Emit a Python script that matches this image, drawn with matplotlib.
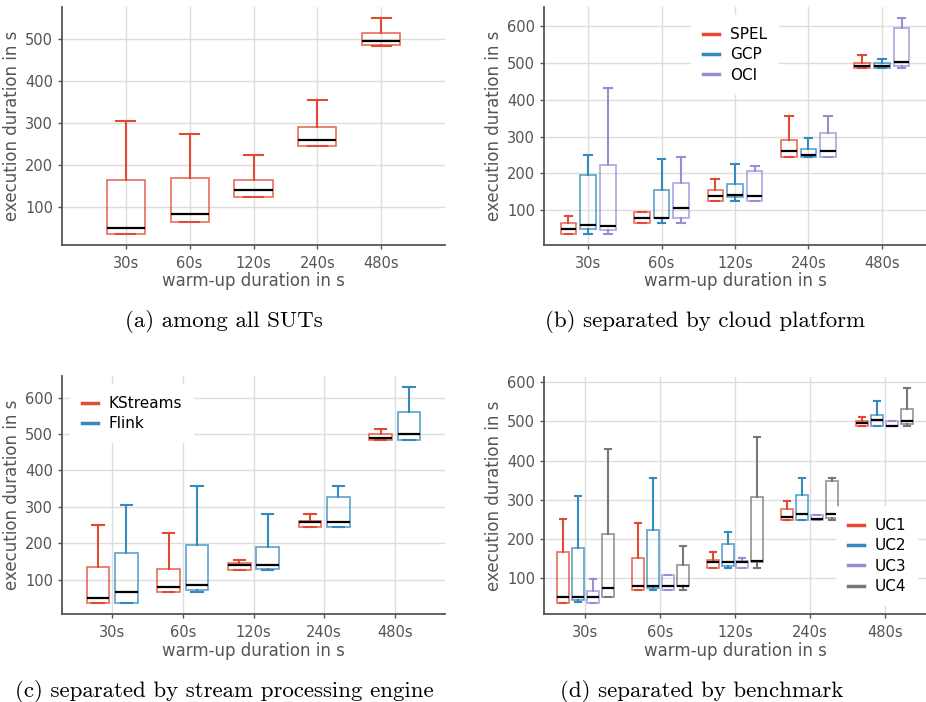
# Warm-up duration vs. execution duration, four views (all SUTs, cloud, engine, benchmark).
import numpy as np
import matplotlib; matplotlib.use("Agg")
import matplotlib.pyplot as plt
from matplotlib.lines import Line2D

warmups = ["30s", "60s", "120s", "240s", "480s"]
RED, BLUE, PURPLE, GREY = "#E24A33", "#348ABD", "#988ED5", "#777777"

# box stats per group: [whislo, q1, med, q3, whishi] for each warm-up duration
all_suts = [[35, 35, 50, 165, 306], [64, 65, 82, 170, 274], [124, 124, 140, 165, 225],
            [246, 245, 260, 290, 356], [483, 485, 496, 515, 551]]

spel = [[35, 35, 49, 65, 85], [66, 66, 79, 95, 95], [125, 125, 139, 155, 185],
        [245, 245, 261, 290, 356], [487, 487, 491, 500, 522]]
gcp = [[35, 49, 60, 197, 250], [66, 78, 79, 156, 239], [125, 137, 141, 172, 226],
       [245, 245, 250, 266, 297], [487, 487, 491, 499, 510]]
oci = [[35, 46, 57, 222, 432], [66, 80, 106, 174, 245], [125, 125, 139, 207, 220],
       [245, 245, 261, 310, 356], [487, 491, 502, 595, 623]]

kstreams = [[35, 35, 50, 135, 250], [66, 66, 80, 129, 227], [126, 126, 141, 145, 154],
            [245, 245, 259, 260, 281], [484, 484, 490, 500, 515]]
flink = [[35, 35, 66, 172, 306], [66, 70, 85, 194, 356], [126, 129, 141, 190, 281],
         [245, 245, 259, 327, 356], [484, 484, 501, 560, 630]]

uc1 = [[35, 35, 51, 166, 251], [68, 68, 80, 151, 240], [126, 126, 141, 146, 167],
       [247, 247, 256, 276, 297], [487, 487, 497, 501, 511]]
uc2 = [[38, 44, 51, 176, 308], [68, 73, 80, 221, 356], [126, 131, 141, 186, 216],
       [247, 247, 262, 311, 356], [487, 487, 503, 517, 551]]
uc3 = [[35, 35, 51, 66, 96], [68, 68, 80, 106, 106], [126, 126, 141, 144, 151],
       [247, 247, 251, 261, 261], [487, 487, 487, 501, 501]]
uc4 = [[51, 51, 75, 213, 430], [68, 80, 80, 133, 182], [126, 140, 143, 306, 460],
       [247, 252, 264, 347, 356], [487, 494, 501, 532, 586]]

fig = plt.figure(figsize=(9.26, 7.02), dpi=100)
W, H = 926, 702
def add_ax(x0, x1, y0, y1):
    return fig.add_axes([x0 / W, 1 - y1 / H, (x1 - x0) / W, (y1 - y0) / H])

def draw(ax, groups, colors, labels, width, offsets, xlim, legend=None, anchor=None):
    for stats_list, c, off in zip(groups, colors, offsets):
        stats = [dict(whislo=s[0], q1=s[1], med=s[2], q3=s[3], whishi=s[4], fliers=[]) for s in stats_list]
        ax.bxp(stats, positions=np.arange(len(warmups)) + off, widths=width, showfliers=False,
               patch_artist=True, manage_ticks=False,
               boxprops=dict(facecolor="none", edgecolor=c, alpha=0.8, lw=1.2),
               whiskerprops=dict(color=c, lw=1.5), capprops=dict(color=c, lw=1.5),
               medianprops=dict(color="black", lw=1.6))
    ax.set_xticks(range(len(warmups)), warmups)
    ax.set_xlim(*xlim)
    ax.set_xlabel("warm-up duration in s", color="#555", fontsize=12, labelpad=1)
    ax.set_ylabel("execution duration in s", color="#555", fontsize=12, labelpad=3)
    ax.grid(color="#dddddd", lw=1); ax.set_axisbelow(True)
    ax.spines[["top", "right"]].set_visible(False)
    for s in ("left", "bottom"):
        ax.spines[s].set_color("#555"); ax.spines[s].set_linewidth(1.3)
    ax.tick_params(colors="#555", labelsize=10.5, length=3, width=1)
    ax.tick_params(axis="x", pad=5)
    if legend:
        h = [Line2D([], [], color=c, lw=2.5) for c in colors]
        ax.legend(h, labels, loc=legend, bbox_to_anchor=anchor, fontsize=11, handlelength=1.05,
                  frameon=True, framealpha=1, edgecolor="none", facecolor="white",
                  borderpad=0.8, labelspacing=0.35, handletextpad=0.7)

axA = add_ax(62, 445, 7, 245)
draw(axA, [all_suts], [RED], None, 0.6, [0], (-1, 5))
axB = add_ax(544, 926, 7, 245)
draw(axB, [spel, gcp, oci], [RED, BLUE, PURPLE], ["SPEL", "GCP", "OCI"], 0.213,
     [-0.267, 0, 0.267], (-0.6, 4.6), legend="upper center", anchor=(0.5, 1.0))
axC = add_ax(62, 445, 376, 614)
draw(axC, [kstreams, flink], [RED, BLUE], ["KStreams", "Flink"], 0.32, [-0.2, 0.2],
     (-0.71, 4.71), legend="upper left", anchor=(0.0, 1.0))
axD = add_ax(544, 926, 377, 614)
draw(axD, [uc1, uc2, uc3, uc4], [RED, BLUE, PURPLE, GREY], ["UC1", "UC2", "UC3", "UC4"], 0.16,
     [-0.3, -0.1, 0.1, 0.3], (-0.55, 4.55), legend="lower right", anchor=(1.0, 0.0))

cap = dict(family="cmr10", fontsize=16.5, ha="center", va="baseline")
fig.text(224 / W, 1 - 327 / H, "(a) among all SUTs", **cap)
fig.text(705 / W, 1 - 327 / H, "(b) separated by cloud platform", **cap)
fig.text(224 / W, 1 - 697 / H, "(c) separated by stream processing engine", **cap)
fig.text(702 / W, 1 - 697 / H, "(d) separated by benchmark", **cap)

plt.savefig("out.png", dpi=100)
